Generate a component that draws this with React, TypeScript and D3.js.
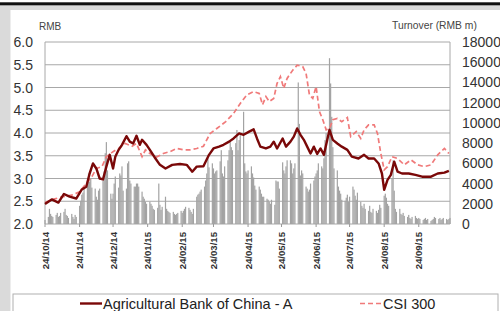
import * as d3 from "d3";

const W = 500;
const H = 311;
const P = { left: 45, right: 450, top: 42, bottom: 224 };
const FONT = "'Liberation Sans', Arial, sans-serif";

const priceTicks = [2.0, 2.5, 3.0, 3.5, 4.0, 4.5, 5.0, 5.5, 6.0];
const turnoverTicks = [0, 2000, 4000, 6000, 8000, 10000, 12000, 14000, 16000, 18000];
const dateTicks = [
  "24/10/14", "24/11/14", "24/12/14", "24/01/15", "24/02/15", "24/03/15",
  "24/04/15", "24/05/15", "24/06/15", "24/07/15", "24/08/15", "24/09/15",
];
const dateStart = "2014-10-24";
const dateEnd = "2015-10-22";

// daily turnover (RMB m), one value per weekday from dateStart
const turnover = [
  400, 700, 1500, 1000, 800, 700, 900, 1100, 700, 800, 1100, 1200, 1500, 900, 800, 600, 1000, 700, 500, 900, 700,
  1800, 2300, 2900, 3100, 3700, 4000, 5000, 4200, 4500, 3600, 3500, 2700, 2400, 3300, 3500, 4300, 5200, 7000, 8100, 5300, 3000, 2500,
  3000, 4000, 4700, 3600, 5000, 4800, 5700, 3300, 3500, 6000, 6200, 4300, 4000, 3700, 3700, 4000, 4000, 3700, 3200, 2700, 2500, 2200, 2000,
  2200, 2000, 1800, 1500, 1400, 1600, 4000, 1900, 1400, 1700, 2700, 1500, 1300, 1200, 1100, 1200, 1000, 900, 1000, 1100, 1300,
  1100, 1300, 1500, 1700, 1600, 1400, 1200, 1000, 1500, 2700, 2900, 3000, 3200, 3400, 3700, 4300, 5000, 6500, 5600, 6000,
  5500, 5000, 5200, 5300, 6200, 7300, 5000, 4700, 5700, 6300, 7300, 8300, 7600, 7300, 8000, 9300, 7300, 8300, 8900, 11100, 6000, 5200, 5000,
  5300, 5700, 5000, 4600, 3800, 3400, 3700, 3400, 3000, 2700, 2700, 2500, 2400, 2200, 2000, 2400, 1900, 4300, 4200, 4200, 3500,
  6100, 5300, 5000, 5700, 6300, 6300, 6000, 5000, 5500, 6000, 14000, 9900, 4800, 5300, 5000, 3700, 3500, 3200, 3400, 4000, 4300, 4700,
  5000, 5300, 6000, 5700, 5500, 6500, 8300, 9000, 16400, 13900, 10600, 7600, 5500, 5300, 3700, 3300, 3000, 2400, 2300, 2600, 2900, 2200,
  2700, 3700, 3400, 2800, 2400, 3100, 2200, 1800, 1600, 2000, 1500, 1300, 1800, 1200, 1100, 1500, 1300, 1100, 1400, 1900, 1600,
  2800, 3000, 2600, 2000, 1800, 4500, 6300, 3300, 1500, 1200, 1500, 1000, 900, 1100, 800, 700, 900, 600, 500, 700, 800, 600, 500,
  600, 500, 400, 500, 600, 400, 500, 300, 400, 500, 700, 600, 500, 600, 400, 500, 600, 500, 400, 500, 600,
];

const abcSeries: [string, number][] = [
  ["2014-10-24", 2.44], ["2014-10-30", 2.54], ["2014-11-05", 2.47], ["2014-11-10", 2.66],
  ["2014-11-15", 2.60], ["2014-11-21", 2.56], ["2014-11-26", 2.76], ["2014-11-30", 2.82],
  ["2014-12-03", 3.11], ["2014-12-06", 3.33], ["2014-12-09", 3.22], ["2014-12-12", 3.00],
  ["2014-12-15", 2.98], ["2014-12-18", 3.26], ["2014-12-21", 3.52], ["2014-12-24", 3.22],
  ["2014-12-26", 3.48], ["2014-12-29", 3.63], ["2015-01-01", 3.74], ["2015-01-05", 3.93],
  ["2015-01-08", 3.81], ["2015-01-11", 3.77], ["2015-01-14", 3.94], ["2015-01-17", 3.74],
  ["2015-01-19", 3.85], ["2015-01-23", 3.74], ["2015-01-26", 3.63], ["2015-01-31", 3.44],
  ["2015-02-04", 3.30], ["2015-02-09", 3.22], ["2015-02-15", 3.30], ["2015-02-22", 3.32],
  ["2015-02-28", 3.30], ["2015-03-05", 3.15], ["2015-03-09", 3.26], ["2015-03-15", 3.27],
  ["2015-03-20", 3.52], ["2015-03-24", 3.66], ["2015-03-29", 3.70], ["2015-04-02", 3.74],
  ["2015-04-07", 3.81], ["2015-04-11", 3.88], ["2015-04-16", 3.99], ["2015-04-20", 3.96],
  ["2015-04-25", 4.03], ["2015-04-29", 4.08], ["2015-05-02", 3.88], ["2015-05-05", 3.70],
  ["2015-05-10", 3.66], ["2015-05-14", 3.70], ["2015-05-17", 3.81], ["2015-05-20", 3.66],
  ["2015-05-25", 3.88], ["2015-05-28", 3.70], ["2015-06-01", 3.81], ["2015-06-04", 3.92],
  ["2015-06-07", 4.10], ["2015-06-10", 3.96], ["2015-06-13", 3.85], ["2015-06-16", 3.70],
  ["2015-06-19", 3.55], ["2015-06-22", 3.70], ["2015-06-25", 3.54], ["2015-06-28", 3.66],
  ["2015-07-01", 3.52], ["2015-07-04", 3.85], ["2015-07-06", 4.07], ["2015-07-09", 3.85],
  ["2015-07-13", 3.77], ["2015-07-17", 3.70], ["2015-07-22", 3.63], ["2015-07-26", 3.48],
  ["2015-08-01", 3.44], ["2015-08-06", 3.52], ["2015-08-10", 3.44], ["2015-08-15", 3.44],
  ["2015-08-19", 3.33], ["2015-08-22", 3.11], ["2015-08-24", 2.75], ["2015-08-27", 2.97],
  ["2015-08-30", 3.08], ["2015-09-02", 3.37], ["2015-09-05", 3.15], ["2015-09-09", 3.11],
  ["2015-09-15", 3.11], ["2015-09-21", 3.08], ["2015-09-27", 3.04], ["2015-10-05", 3.04],
  ["2015-10-11", 3.11], ["2015-10-17", 3.13], ["2015-10-21", 3.17],
];

// CSI 300 rebased to the ABC price
const csiSeries: [string, number][] = [
  ["2014-10-24", 2.47], ["2014-10-31", 2.54], ["2014-11-09", 2.60], ["2014-11-18", 2.64],
  ["2014-11-24", 2.71], ["2014-11-30", 2.89], ["2014-12-05", 3.04], ["2014-12-09", 3.22],
  ["2014-12-14", 3.26], ["2014-12-18", 3.48], ["2014-12-24", 3.59], ["2014-12-29", 3.66],
  ["2015-01-04", 3.77], ["2015-01-10", 3.71], ["2015-01-14", 3.77], ["2015-01-19", 3.48],
  ["2015-01-22", 3.63], ["2015-01-26", 3.55], ["2015-02-01", 3.47], ["2015-02-07", 3.55],
  ["2015-02-13", 3.59], ["2015-02-19", 3.66], ["2015-02-25", 3.63], ["2015-03-03", 3.63],
  ["2015-03-09", 3.66], ["2015-03-15", 3.71], ["2015-03-21", 3.99], ["2015-03-27", 4.10],
  ["2015-04-04", 4.25], ["2015-04-11", 4.43], ["2015-04-17", 4.65], ["2015-04-23", 4.84],
  ["2015-04-29", 4.91], ["2015-05-04", 4.87], ["2015-05-07", 4.62], ["2015-05-10", 4.80],
  ["2015-05-13", 4.69], ["2015-05-17", 4.76], ["2015-05-20", 5.09], ["2015-05-23", 5.24],
  ["2015-05-26", 4.98], ["2015-05-29", 5.20], ["2015-06-03", 5.38], ["2015-06-07", 5.49],
  ["2015-06-12", 5.46], ["2015-06-15", 5.31], ["2015-06-18", 4.84], ["2015-06-21", 4.76],
  ["2015-06-24", 5.02], ["2015-06-27", 4.47], ["2015-06-30", 4.29], ["2015-07-03", 4.07],
  ["2015-07-06", 4.10], ["2015-07-09", 4.29], ["2015-07-13", 4.32], ["2015-07-17", 4.25],
  ["2015-07-22", 4.34], ["2015-07-25", 3.92], ["2015-07-30", 4.03], ["2015-08-03", 3.88],
  ["2015-08-06", 4.07], ["2015-08-10", 4.18], ["2015-08-15", 4.18], ["2015-08-18", 3.99],
  ["2015-08-21", 3.55], ["2015-08-24", 3.19], ["2015-08-27", 3.26], ["2015-08-31", 3.48],
  ["2015-09-05", 3.44], ["2015-09-11", 3.30], ["2015-09-17", 3.41], ["2015-09-23", 3.30],
  ["2015-09-29", 3.26], ["2015-10-05", 3.30], ["2015-10-11", 3.52], ["2015-10-17", 3.66],
  ["2015-10-21", 3.55],
];

const parse = d3.timeParse("%Y-%m-%d");
const parseTick = d3.timeParse("%d/%m/%y");

const ABC_COLOR = "#7a0808";
const CSI_COLOR = "#f07a7a";

export default function App() {
  const x = d3.scaleTime()
    .domain([parse(dateStart)!, parse(dateEnd)!])
    .range([P.left, P.right]);
  const yL = d3.scaleLinear().domain([2, 6]).range([P.bottom, P.top]);
  const yR = d3.scaleLinear().domain([0, 18000]).range([P.bottom, P.top]);

  // trading days = weekdays from the start date
  const start = parse(dateStart)!;
  const days = d3.timeDay
    .range(start, d3.timeDay.offset(start, 400))
    .filter(d => d.getDay() > 0 && d.getDay() < 6)
    .slice(0, turnover.length);

  const line = d3.line<[string, number]>()
    .x(d => x(parse(d[0])!))
    .y(d => yL(d[1]));

  return (
    <svg width={W} height={H} style={{ position: "absolute", left: 0, top: 0 }} fontFamily={FONT}>
      {/* frame */}
      <rect x={0} y={0} width={W} height={H} fill="#fff" />
      <rect x={0} y={5} width={W} height={H - 5} fill="#dadada" />
      <rect x={0} y={2.3} width={W} height={3} fill="#111" />
      <rect x={10.5} y={10} width={W - 10.5} height={H - 10} fill="#fff" />

      {/* gridlines */}
      {priceTicks.map(t => (
        <line key={t} x1={P.left} x2={P.right} y1={yL(t)} y2={yL(t)} stroke="#a8a8a8" strokeWidth={1} />
      ))}
      <line x1={P.left} x2={P.left} y1={P.top} y2={P.bottom} stroke="#a8a8a8" />
      <line x1={P.right} x2={P.right} y1={P.top} y2={P.bottom} stroke="#a8a8a8" />

      {/* turnover bars */}
      {days.map((d, i) => (
        <rect key={i} x={x(d) - 0.6} width={1.2} y={yR(turnover[i])}
          height={yR(0) - yR(turnover[i])} fill="#a3a3a3" />
      ))}

      {/* x ticks */}
      {dateTicks.map(t => {
        const xt = x(parseTick(t)!);
        return (
          <g key={t}>
            <line x1={xt} x2={xt} y1={P.bottom} y2={P.bottom + 3} stroke="#999" />
            <text transform={`translate(${xt},232) rotate(-90)`} textAnchor="end" dominantBaseline="central"
              fontSize={9.6} fontWeight="bold" fill="#333">{t}</text>
          </g>
        );
      })}

      {/* lines */}
      <path d={line(csiSeries)!} fill="none" stroke={CSI_COLOR} strokeWidth={1.7} strokeDasharray="5,3" />
      <path d={line(abcSeries)!} fill="none" stroke={ABC_COLOR} strokeWidth={2.4} strokeLinejoin="round" />

      {/* axis labels */}
      {priceTicks.map(t => (
        <text key={t} x={33} y={yL(t)} dy="0.36em" textAnchor="end" fontSize={14} fill="#333">
          {d3.format(".1f")(t)}
        </text>
      ))}
      {turnoverTicks.map(t => (
        <text key={t} x={462} y={yR(t)} dy="0.36em" fontSize={14} fill="#333">{t}</text>
      ))}
      <text x={39} y={30} fontSize={10} fill="#444">RMB</text>
      <text x={392} y={28.5} fontSize={10.3} fill="#444">Turnover (RMB m)</text>

      {/* legend */}
      <rect x={13} y={294} width={485} height={30} fill="#fff" stroke="#b0b0b0" />
      <line x1={80} x2={102} y1={303.5} y2={303.5} stroke={ABC_COLOR} strokeWidth={2.4} />
      <text x={103} y={308.5} fontSize={14.5} fill="#222">Agricultural Bank of China - A</text>
      <line x1={360} x2={382} y1={303.5} y2={303.5} stroke={CSI_COLOR} strokeWidth={1.7} strokeDasharray="5,3" />
      <text x={383} y={308.5} fontSize={14.5} fill="#222">CSI 300</text>
    </svg>
  );
}
